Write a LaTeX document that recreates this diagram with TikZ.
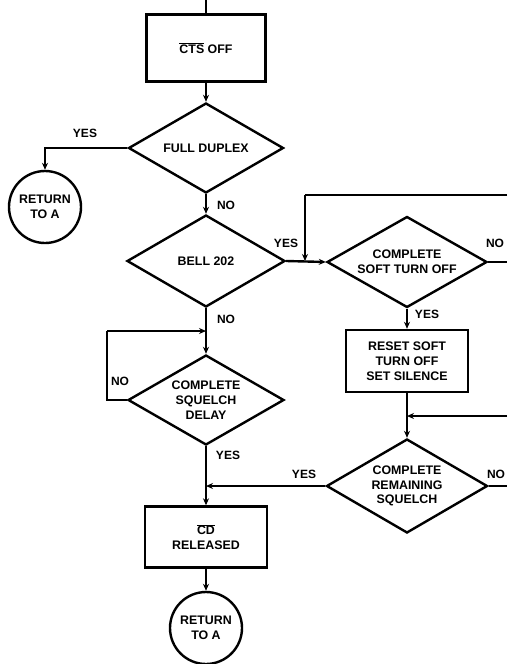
\documentclass[tikz,border=0pt]{standalone}
\usepackage{fontspec}
\setmainfont{Liberation Sans}
\usetikzlibrary{shapes.geometric,arrows.meta}
\newcommand\ovl[1]{$\overline{\hbox{#1}}$}
\begin{document}
\begin{tikzpicture}[x=1pt,y=-1pt,
  every node/.style={font=\bfseries\fontsize{12.4}{14.8}\selectfont, align=center},
  flow/.style={line width=2.4pt},
  arr/.style={flow,-{Stealth[length=7pt,width=6pt]}},
  procbox/.style={draw,line width=2.4pt,rectangle,inner sep=0pt},
  decision/.style={draw,line width=2.4pt,diamond,inner sep=0pt,
    label={[inner sep=0pt]center:#1}},
  termcirc/.style={draw,line width=2.4pt,circle,inner sep=0pt,minimum size=72pt},
  lbl/.style={font=\bfseries\fontsize{12}{14}\selectfont}]
\useasboundingbox (0,0) rectangle (507,664);
% nodes
\node[procbox,minimum width=119pt,minimum height=67pt] (cts) at (206,48) {\ovl{CTS} OFF};
\node[decision={FULL DUPLEX},minimum width=155pt,minimum height=90pt] (fd) at (206,148) {};
\node[termcirc] (ret1) at (45,207) {RETURN\\TO A};
\node[decision={BELL 202},minimum width=158pt,minimum height=92pt] (bell) at (206,261) {};
\node[decision={COMPLETE\\SOFT TURN OFF},minimum width=160pt,minimum height=91pt] (csto) at (407,262) {};
\node[procbox,minimum width=122pt,minimum height=62pt] (reset) at (407,361) {RESET SOFT\\TURN OFF\\SET SILENCE};
\node[decision={COMPLETE\\REMAINING\\SQUELCH},minimum width=161pt,minimum height=94pt] (crs) at (407,486) {};
\node[decision={COMPLETE\\SQUELCH\\DELAY},minimum width=156pt,minimum height=90pt] (csd) at (206,400) {};
\node[procbox,minimum width=122pt,minimum height=61pt] (cd) at (206,537) {\ovl{CD}\\RELEASED};
\node[termcirc] (ret2) at (206,628) {RETURN\\TO A};
% coordinates
\coordinate (top) at (206,0);
\coordinate (loopR) at (507,195);
\coordinate (loopL) at (305,195);
\coordinate (join) at (305,261);
\coordinate (cstoOut) at (507,262);
\coordinate (mergeR) at (507,416);
\coordinate (mergeJ) at (407,416);
\coordinate (crsOut) at (507,486);
\coordinate (yesJ) at (206,486);
\coordinate (sqA) at (107,400);
\coordinate (sqB) at (107,331);
\coordinate (sqJ) at (206,331);
% connectors
\draw[flow] (top) -- (cts.north);
\draw[arr] (cts.south) -- (fd.north);
\draw[arr] (fd.west) -| (ret1.north);
\draw[arr] (fd.south) -- (bell.north);
\draw[arr] (bell.east) -- (csto.west);
\draw[flow] (loopR) -- (loopL);
\draw[arr] (loopL) -- (join);
\draw[flow] (csto.east) -- (cstoOut);
\draw[arr] (csto.south) -- (reset.north);
\draw[flow] (bell.south) -- (sqJ);
\draw[arr] (sqJ) -- (csd.north);
\draw[flow] (csd.west) -- (sqA) -- (sqB);
\draw[arr] (sqB) -- (sqJ);
\draw[arr] (reset.south) -- (crs.north);
\draw[arr] (mergeR) -- (mergeJ);
\draw[flow] (crs.east) -- (crsOut);
\draw[arr] (crs.west) -- (yesJ);
\draw[arr] (csd.south) -- (cd.north);
\draw[arr] (cd.south) -- (ret2.north);
% labels
\node[lbl] (l1) at (85,133) {YES};
\node[lbl] (l2) at (226,205) {NO};
\node[lbl] (l3) at (286,243) {YES};
\node[lbl] (l4) at (495,243) {NO};
\node[lbl] (l5) at (427,314) {YES};
\node[lbl] (l6) at (226,319) {NO};
\node[lbl] (l7) at (120,381) {NO};
\node[lbl] (l8) at (228,455) {YES};
\node[lbl] (l9) at (304,474) {YES};
\node[lbl] (l10) at (496,474) {NO};
\end{tikzpicture}
\end{document}
